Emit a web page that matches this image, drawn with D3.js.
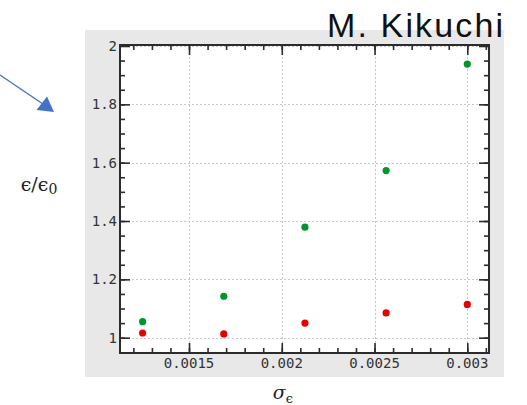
<!DOCTYPE html>
<html>
<head>
<meta charset="utf-8">
<script src="https://cdn.jsdelivr.net/npm/d3@7"></script>
<style>
  html, body { margin: 0; padding: 0; background: #ffffff; }
  svg { display: block; }
</style>
</head>
<body>
<svg id="chart" width="527" height="405"></svg>
<script>
// Noise width sigma_eps and the two measured emittance growth series
const sigmaEps = [0.00125, 0.0016875, 0.002125, 0.0025625, 0.003];
const seriesGreen = [1.055, 1.142, 1.379, 1.573, 1.938];
const seriesRed = [1.016, 1.013, 1.050, 1.085, 1.114];

const xMajorTicks = [0.0015, 0.002, 0.0025, 0.003];
const xTickLabels = ["0.0015", "0.002", "0.0025", "0.003"];
const yMajorTicks = [1, 1.2, 1.4, 1.6, 1.8, 2];
const yTickLabels = ["1", "1.2", "1.4", "1.6", "1.8", "2"];

const svg = d3.select("#chart");

// Plot frame
const frame = { left: 120, right: 489, top: 45, bottom: 353 };

const x = d3.scaleLinear().domain([0.001128, 0.003117]).range([frame.left, frame.right]);
const y = d3.scaleLinear().domain([0.9475, 2.0034]).range([frame.bottom, frame.top]);

// grey backdrop behind the axes
svg.append("rect")
  .attr("x", 85).attr("y", 30).attr("width", 419).attr("height", 347)
  .attr("fill", "#e8e8e8");

svg.append("rect")
  .attr("x", frame.left).attr("y", frame.top)
  .attr("width", frame.right - frame.left).attr("height", frame.bottom - frame.top)
  .attr("fill", "#ffffff");

// dotted grid at the major ticks
const grid = svg.append("g").attr("stroke", "#c8c8c8").attr("stroke-width", 1)
  .attr("stroke-dasharray", "2,2");
xMajorTicks.forEach(v => grid.append("line")
  .attr("x1", Math.round(x(v)) + 0.5).attr("x2", Math.round(x(v)) + 0.5)
  .attr("y1", frame.top).attr("y2", frame.bottom));
yMajorTicks.forEach(v => grid.append("line")
  .attr("y1", Math.round(y(v)) + 0.5).attr("y2", Math.round(y(v)) + 0.5)
  .attr("x1", frame.left).attr("x2", frame.right));

// minor tick positions
const xMinor = d3.range(12, 32).map(i => i / 10000).filter(v => x(v) > frame.left + 2 && x(v) < frame.right - 2);
const yMinor = d3.range(19, 41).map(i => i / 20).filter(v => y(v) < frame.bottom - 2 && y(v) > frame.top + 2);

const ink = "#2b2b2b";
const majorLen = 10, minorLen = 5;

// tick marks from d3 axis generators, pointing into the frame
function styleAxis(g) {
  g.select(".domain").remove();
  g.selectAll(".tick line").attr("stroke", ink).attr("stroke-width", 1.6);
  g.selectAll(".tick text").remove();
}

const axes = [
  [d3.axisBottom(x).tickValues(xMinor).tickSize(-minorLen), `translate(0,${frame.bottom})`],
  [d3.axisBottom(x).tickValues(xMajorTicks).tickSize(-majorLen), `translate(0,${frame.bottom})`],
  [d3.axisTop(x).tickValues(xMinor).tickSize(-minorLen), `translate(0,${frame.top})`],
  [d3.axisTop(x).tickValues(xMajorTicks).tickSize(-majorLen), `translate(0,${frame.top})`],
  [d3.axisLeft(y).tickValues(yMinor).tickSize(-minorLen), `translate(${frame.left},0)`],
  [d3.axisLeft(y).tickValues(yMajorTicks).tickSize(-majorLen), `translate(${frame.left},0)`],
  [d3.axisRight(y).tickValues(yMinor).tickSize(-minorLen), `translate(${frame.right},0)`],
  [d3.axisRight(y).tickValues(yMajorTicks).tickSize(-majorLen), `translate(${frame.right},0)`]
];
axes.forEach(([ax, tr]) => svg.append("g").attr("transform", tr).call(ax).call(styleAxis));

// monospace tick labels
const labelStyle = sel => sel
  .attr("fill", "#333333")
  .style("font-family", "'DejaVu Sans Mono', monospace")
  .style("font-size", "14px");

svg.append("g").selectAll("text").data(xMajorTicks).join("text")
  .attr("x", d => x(d)).attr("y", 368)
  .attr("text-anchor", "middle")
  .call(labelStyle)
  .text((d, i) => xTickLabels[i]);

svg.append("g").selectAll("text").data(yMajorTicks).join("text")
  .attr("x", 117).attr("y", d => y(d)).attr("dy", "0.35em")
  .attr("text-anchor", "end")
  .call(labelStyle)
  .text((d, i) => yTickLabels[i]);

// frame outline
svg.append("rect")
  .attr("x", frame.left).attr("y", frame.top)
  .attr("width", frame.right - frame.left).attr("height", frame.bottom - frame.top)
  .attr("fill", "none").attr("stroke", ink).attr("stroke-width", 2);

// data points
const pts = svg.append("g");
pts.selectAll("circle.green").data(sigmaEps).join("circle")
  .attr("class", "green")
  .attr("cx", d => x(d)).attr("cy", (d, i) => y(seriesGreen[i]))
  .attr("r", 3.6).attr("fill", "#00962a");
pts.selectAll("circle.red").data(sigmaEps).join("circle")
  .attr("class", "red")
  .attr("cx", d => x(d)).attr("cy", (d, i) => y(seriesRed[i]))
  .attr("r", 3.6).attr("fill", "#e60000");

// axis titles
const yTitle = svg.append("text")
  .attr("x", 39).attr("y", 191)
  .attr("text-anchor", "middle")
  .attr("fill", "#222222")
  .style("font-family", "'DejaVu Serif', 'Liberation Serif', serif")
  .style("font-size", "19px");
yTitle.append("tspan").text("\u03F5/\u03F5");
yTitle.append("tspan").attr("dy", 3).style("font-size", "14px").text("0");

const xTitle = svg.append("text")
  .attr("x", 283).attr("y", 399)
  .attr("text-anchor", "middle")
  .attr("fill", "#222222")
  .style("font-family", "'DejaVu Serif', 'Liberation Serif', serif")
  .style("font-style", "italic")
  .style("font-size", "19px");
xTitle.append("tspan").text("\u03C3");
xTitle.append("tspan").attr("dy", 4).style("font-size", "13px").style("font-style", "normal").text("\u03F5");

// author name
svg.append("text")
  .attr("x", 327).attr("y", 37)
  .attr("fill", "#111111")
  .attr("textLength", 176).attr("lengthAdjust", "spacing")
  .style("font-family", "'Liberation Sans', Arial, sans-serif")
  .style("font-size", "34px")
  .text("M. Kikuchi");

// pointer arrow
const arrowBlue = "#4472c4";
svg.append("line")
  .attr("x1", 0).attr("y1", 75).attr("x2", 43).attr("y2", 104)
  .attr("stroke", arrowBlue).attr("stroke-width", 1.4);
svg.append("path")
  .attr("d", "M47,96.5 L54,112 L36.5,110 Z")
  .attr("fill", arrowBlue);
</script>
</body>
</html>
